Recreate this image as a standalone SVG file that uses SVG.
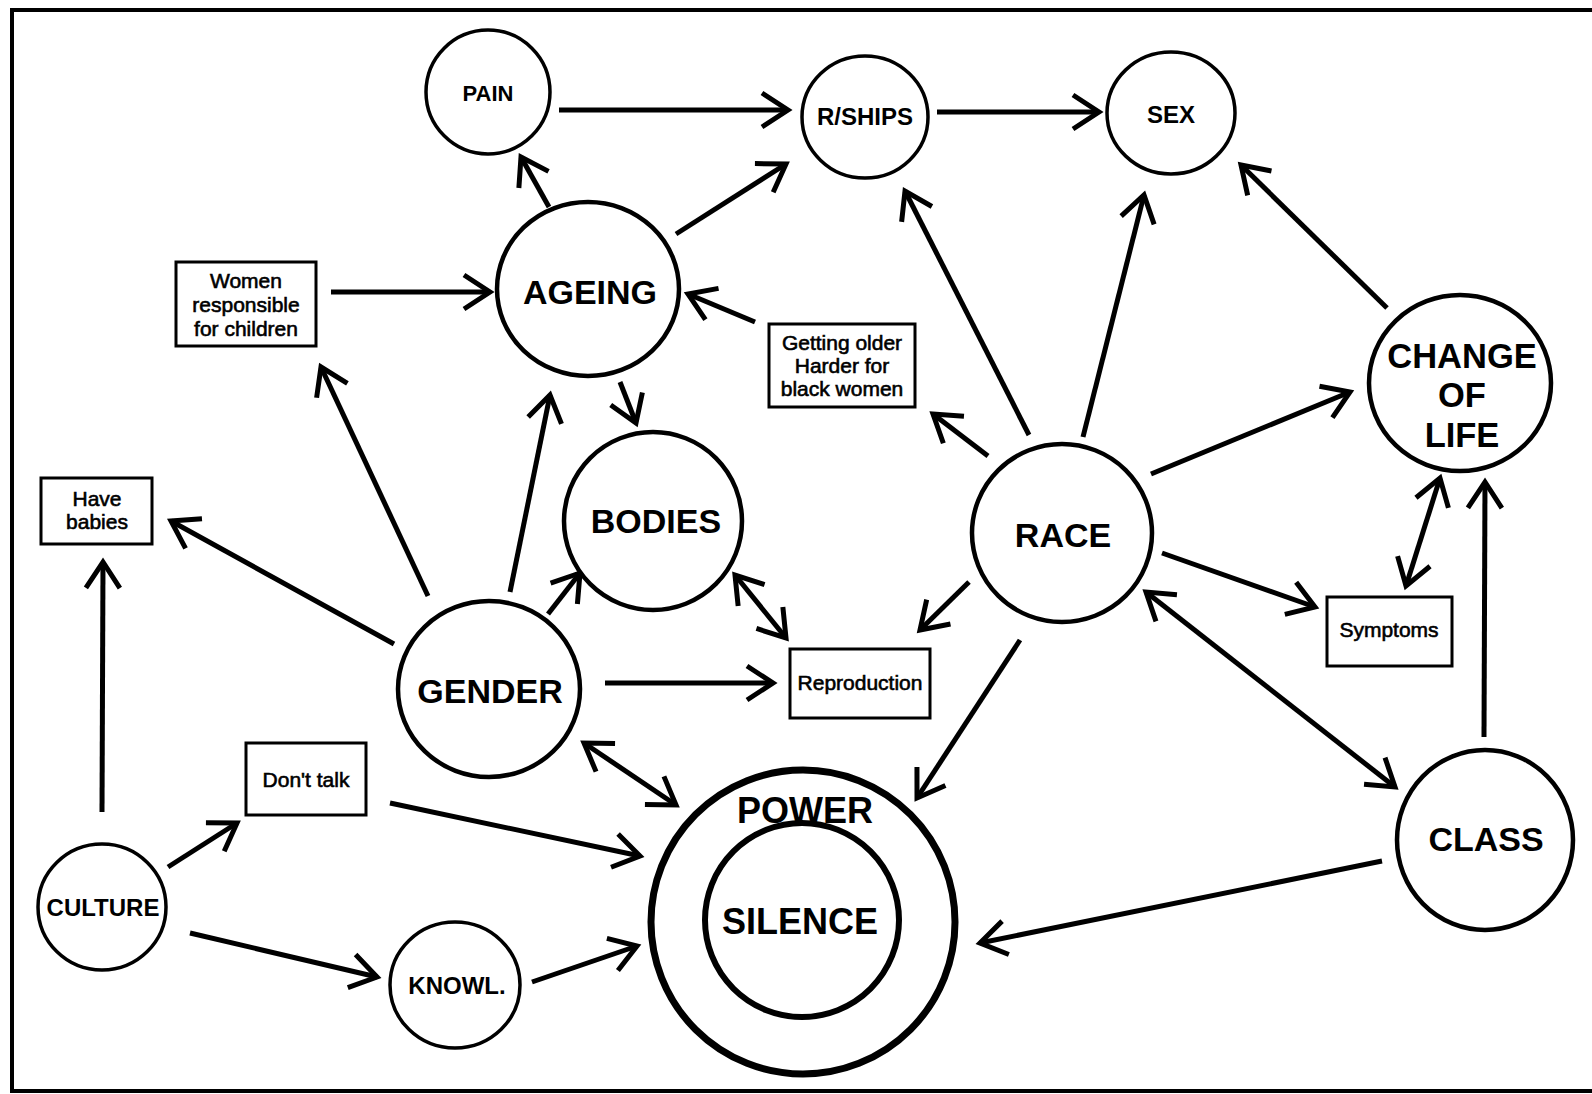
<svg xmlns="http://www.w3.org/2000/svg" width="1592" height="1094" viewBox="0 0 1592 1094">
<defs>
<style>
.bg{fill:#fff}
.frame{stroke:#000;stroke-width:4;fill:none}
.n{fill:#fff;stroke:#000;stroke-width:3.5}
.nb{fill:#fff;stroke:#000;stroke-width:4.5}
.box{fill:#fff;stroke:#000;stroke-width:3}
.l{font-family:"Liberation Sans",Arial,sans-serif;font-weight:bold;text-anchor:middle;fill:#000}
.s{font-size:24px}
.m{font-size:34px}
.t{font-family:"Liberation Sans",Arial,sans-serif;font-size:21px;text-anchor:middle;fill:#000;stroke:#000;stroke-width:0.6}
.c line{stroke:#000;stroke-width:5;fill:none;marker-end:url(#ah)}
.c line.bi{marker-start:url(#ah)}
</style>
<marker id="ah" viewBox="-32 -20 38 40" refX="0" refY="0" markerWidth="38" markerHeight="40" markerUnits="userSpaceOnUse" orient="auto-start-reverse" overflow="visible">
<path d="M-26,-17 L0,0 L-26,17" fill="none" stroke="#000" stroke-width="5"/>
</marker>
</defs>
<rect class="bg" x="0" y="0" width="1592" height="1094"/>
<path class="frame" d="M1592,10 L12,10 L12,1091 L1592,1091"/>

<g class="c" id="connectors">
<line x1="559" y1="110" x2="788" y2="110"/>
<line x1="937" y1="112" x2="1099" y2="112"/>
<line x1="549" y1="207" x2="521" y2="157"/>
<line x1="676" y1="234" x2="786" y2="164"/>
<line x1="331" y1="292" x2="490" y2="292"/>
<line x1="755" y1="322" x2="688" y2="294"/>
<line x1="620" y1="382" x2="636" y2="423"/>
<line x1="428" y1="596" x2="321" y2="367"/>
<line x1="510" y1="592" x2="550" y2="395"/>
<line x1="394" y1="644" x2="171" y2="521"/>
<line x1="102" y1="812" x2="103" y2="562"/>
<line x1="548" y1="614" x2="580" y2="573"/>
<line class="bi" x1="735" y1="575" x2="786" y2="638"/>
<line x1="605" y1="683" x2="773" y2="683"/>
<line class="bi" x1="584" y1="743" x2="676" y2="805"/>
<line x1="168" y1="867" x2="237" y2="823"/>
<line x1="390" y1="803" x2="640" y2="856"/>
<line x1="190" y1="933" x2="377" y2="977"/>
<line x1="532" y1="982" x2="637" y2="946"/>
<line x1="988" y1="456" x2="933" y2="414"/>
<line x1="1029" y1="435" x2="905" y2="191"/>
<line x1="1083" y1="437" x2="1144" y2="195"/>
<line x1="1387" y1="308" x2="1241" y2="165"/>
<line x1="1151" y1="474" x2="1350" y2="392"/>
<line class="bi" x1="1440" y1="478" x2="1406" y2="586"/>
<line x1="1484" y1="737" x2="1485" y2="482"/>
<line x1="1162" y1="553" x2="1315" y2="607"/>
<line x1="969" y1="582" x2="920" y2="630"/>
<line x1="1020" y1="640" x2="917" y2="798"/>
<line class="bi" x1="1146" y1="592" x2="1395" y2="787"/>
<line x1="1382" y1="861" x2="980" y2="943"/>
</g>

<g id="pain"><ellipse class="n" cx="488" cy="92" rx="62" ry="62"/><text class="l" x="488" y="101" style="font-size:22px">PAIN</text></g>
<g id="rships"><ellipse class="n" cx="865" cy="117" rx="63" ry="61"/><text class="l s" x="865" y="125">R/SHIPS</text></g>
<g id="sex"><ellipse class="n" cx="1171" cy="113" rx="64" ry="61"/><text class="l s" x="1171" y="123">SEX</text></g>
<g id="ageing"><ellipse class="nb" cx="588" cy="289" rx="91" ry="87"/><text class="l m" x="590" y="304">AGEING</text></g>
<g id="women"><rect class="box" x="176" y="262" width="140" height="84"/><text class="t" x="246" y="288">Women</text><text class="t" x="246" y="312">responsible</text><text class="t" x="246" y="336">for children</text></g>
<g id="older"><rect class="box" x="769" y="324" width="146" height="83"/><text class="t" x="842" y="350">Getting older</text><text class="t" x="842" y="373">Harder for</text><text class="t" x="842" y="396">black women</text></g>
<g id="bodies"><ellipse class="nb" cx="653" cy="521" rx="89" ry="89"/><text class="l m" x="656" y="533">BODIES</text></g>
<g id="babies"><rect class="box" x="41" y="478" width="111" height="66"/><text class="t" x="97" y="506">Have</text><text class="t" x="97" y="529">babies</text></g>
<g id="gender"><ellipse class="nb" cx="489" cy="689" rx="91" ry="88"/><text class="l m" x="490" y="703">GENDER</text></g>
<g id="donttalk"><rect class="box" x="246" y="743" width="120" height="72"/><text class="t" x="306" y="787">Don't talk</text></g>
<g id="culture"><ellipse class="n" cx="102" cy="907" rx="64" ry="63"/><text class="l s" x="103" y="916">CULTURE</text></g>
<g id="knowl"><ellipse class="n" cx="455" cy="985" rx="65" ry="63"/><text class="l s" x="457" y="994">KNOWL.</text></g>
<g id="power"><circle cx="803" cy="922" r="152" fill="#fff" stroke="#000" stroke-width="7"/><circle cx="802" cy="920" r="97" fill="#fff" stroke="#000" stroke-width="6"/><text class="l" x="805" y="823" style="font-size:36px">POWER</text><text class="l" x="800" y="934" style="font-size:36px">SILENCE</text></g>
<g id="race"><ellipse class="nb" cx="1062" cy="533" rx="90" ry="89"/><text class="l m" x="1063" y="547">RACE</text></g>
<g id="change"><ellipse class="nb" cx="1460" cy="383" rx="91" ry="88"/><text class="l" x="1462" y="368" style="font-size:34.5px">CHANGE</text><text class="l" x="1462" y="407" style="font-size:34.5px">OF</text><text class="l" x="1462" y="447" style="font-size:34.5px">LIFE</text></g>
<g id="symptoms"><rect class="box" x="1327" y="597" width="125" height="69"/><text class="t" x="1389" y="637">Symptoms</text></g>
<g id="reproduction"><rect class="box" x="790" y="649" width="140" height="69"/><text class="t" x="860" y="690">Reproduction</text></g>
<g id="class"><ellipse class="nb" cx="1485" cy="840" rx="88" ry="90"/><text class="l m" x="1486" y="851">CLASS</text></g>
</svg>
